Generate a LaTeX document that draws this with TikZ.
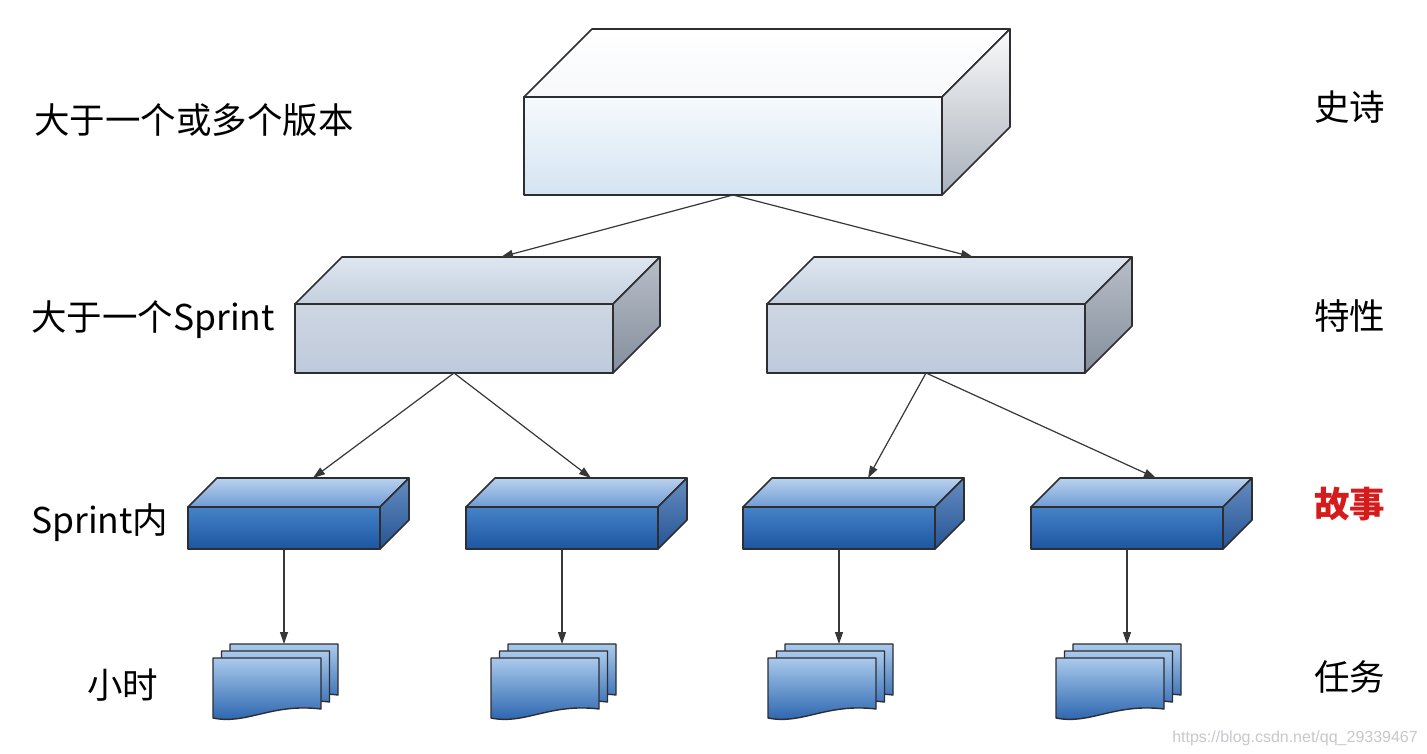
\documentclass[tikz,border=0pt]{standalone}
\usepackage{fontspec}
\setmainfont{Noto Sans CJK SC}
\newfontfamily\wmfont{Liberation Sans}
\usetikzlibrary{arrows.meta}

\definecolor{edgec}{RGB}{45,45,50}
\definecolor{arrc}{RGB}{55,55,55}
\definecolor{redlbl}{RGB}{212,28,28}
\definecolor{wmc}{RGB}{200,200,205}
% level 1
\definecolor{aTopT}{RGB}{255,255,255}
\definecolor{aTopB}{RGB}{246,248,250}
\definecolor{aFrT}{RGB}{246,250,253}
\definecolor{aFrB}{RGB}{212,228,242}
\definecolor{aSdT}{RGB}{250,250,250}
\definecolor{aSdB}{RGB}{168,176,186}
% level 2
\definecolor{bTopT}{RGB}{222,230,240}
\definecolor{bTopB}{RGB}{196,208,222}
\definecolor{bFrT}{RGB}{206,214,226}
\definecolor{bFrM}{RGB}{168,178,194}
\definecolor{bFrB}{RGB}{190,202,220}
\definecolor{bSdT}{RGB}{184,190,200}
\definecolor{bSdB}{RGB}{132,142,156}
% level 3
\definecolor{cTopT}{RGB}{186,210,238}
\definecolor{cTopB}{RGB}{112,156,212}
\definecolor{cFrT}{RGB}{70,130,200}
\definecolor{cFrB}{RGB}{28,86,160}
\definecolor{cSdT}{RGB}{100,140,192}
\definecolor{cSdB}{RGB}{38,84,148}
% documents
\definecolor{dT}{RGB}{170,202,236}
\definecolor{dM}{RGB}{70,130,200}
\definecolor{dB}{RGB}{34,94,170}

\tikzset{
  edgeline/.style={draw=edgec, line width=1.6pt, line join=round},
  aTop/.style={edgeline, top color=aTopT, bottom color=aTopB},
  aFront/.style={edgeline, top color=aFrT, bottom color=aFrB},
  aSide/.style={edgeline, top color=aSdT, bottom color=aSdB},
  bTop/.style={edgeline, top color=bTopT, bottom color=bTopB},
  bFront/.style={edgeline, top color=bFrT, middle color=bFrM, bottom color=bFrB},
  bSide/.style={edgeline, top color=bSdT, bottom color=bSdB},
  cTop/.style={edgeline, top color=cTopT, bottom color=cTopB},
  cFront/.style={edgeline, top color=cFrT, bottom color=cFrB},
  cSide/.style={edgeline, top color=cSdT, bottom color=cSdB},
  docpage/.style={edgeline, line width=1.4pt, top color=dT, middle color=dM, bottom color=dB},
  conn/.style={draw=arrc, line width=1.2pt, -{Triangle[length=12pt,width=8pt]}},
  lbl/.style={anchor=west, inner sep=0pt, font=\fontsize{35.5}{42}\selectfont},
  wm/.style={anchor=east, inner sep=0pt, text=wmc, font=\wmfont\fontsize{16}{18}\selectfont},
}

% #1 name, #2 x, #3 y (front top-left), #4 width, #5 height, #6 depth, #7 style prefix
\newcommand\cuboid[7]{%
  \path[#7Top] ({#2},{#3}) -- ++({#6},{-#6}) -- ++({#4},0) -- ++({-#6},{#6}) -- cycle;
  \path[#7Front] ({#2},{#3}) rectangle ++({#4},{#5});
  \path[#7Side] ({#2+#4},{#3}) -- ++({#6},{-#6}) -- ++(0,{#5}) -- ++({-#6},{#6}) -- cycle;
  \coordinate (#1-b) at ({#2+#4/2},{#3+#5});
  \coordinate (#1-t) at ({#2+#6+#4/2},{#3-#6});
}

% #1 x, #2 y (top-left of page)
\newcommand\onepage[2]{%
  \path[docpage] ({#1},{#2}) -- ({#1+108},{#2}) -- ({#1+108},{#2+51})
    .. controls ({#1+58},{#2+45}) and ({#1+34},{#2+67}) .. ({#1},{#2+60}) -- cycle;
}

% #1 name, #2 x, #3 y (front page top-left)
\newcommand\docstack[3]{%
  \onepage{#2+17}{#3-14}
  \onepage{#2+8.5}{#3-7}
  \onepage{#2}{#3}
  \coordinate (#1-t) at ({#2+17+54},{#3-14});
}

\begin{document}
\begin{tikzpicture}[x=1pt,y=-1pt]
  \fill[white] (0,0) rectangle (1427,754);
  \useasboundingbox (0,0) rectangle (1427,754);

  % level 1
  \cuboid{epic}{524}{97}{418}{98}{68}{a}
  % level 2
  \cuboid{fa}{295}{304}{318}{69}{47}{b}
  \cuboid{fb}{767}{304}{318}{69}{47}{b}
  % level 3
  \cuboid{sa}{188}{507}{192}{42}{29}{c}
  \cuboid{sb}{466}{507}{192}{42}{29}{c}
  \cuboid{sc}{743}{507}{192}{42}{29}{c}
  \cuboid{sd}{1031}{507}{192}{42}{29}{c}
  % level 4
  \docstack{ta}{213}{658}
  \docstack{tb}{491}{658}
  \docstack{tc}{768}{658}
  \docstack{td}{1056}{658}

  % connectors
  \draw[conn] (epic-b) -- (fa-t);
  \draw[conn] (epic-b) -- (fb-t);
  \draw[conn] (fa-b) -- (sa-t);
  \draw[conn] (fa-b) -- (sb-t);
  \draw[conn] (fb-b) -- (sc-t);
  \draw[conn] (fb-b) -- (sd-t);
  \draw[conn] (sa-b) -- (ta-t);
  \draw[conn] (sb-b) -- (tb-t);
  \draw[conn] (sc-b) -- (tc-t);
  \draw[conn] (sd-b) -- (td-t);

  % left labels
  \node[lbl] (l1) at (34,120) {大于一个或多个版本};
  \node[lbl] (l2) at (31,320) {大于一个Sprint};
  \node[lbl] (l3) at (31,523) {Sprint内};
  \node[lbl] (l4) at (87,685) {小时};
  % right labels
  \node[lbl] (r1) at (1314,107) {史诗};
  \node[lbl] (r2) at (1314,316) {特性};
  \node[lbl, text=redlbl, font=\fontsize{35.5}{42}\selectfont\bfseries] (r3) at (1314,504) {故事};
  \node[lbl] (r4) at (1314,677) {任务};
  % watermark
  \node[wm] (wmk) at (1418,738) {https://blog.csdn.net/qq\_29339467};
\end{tikzpicture}
\end{document}
